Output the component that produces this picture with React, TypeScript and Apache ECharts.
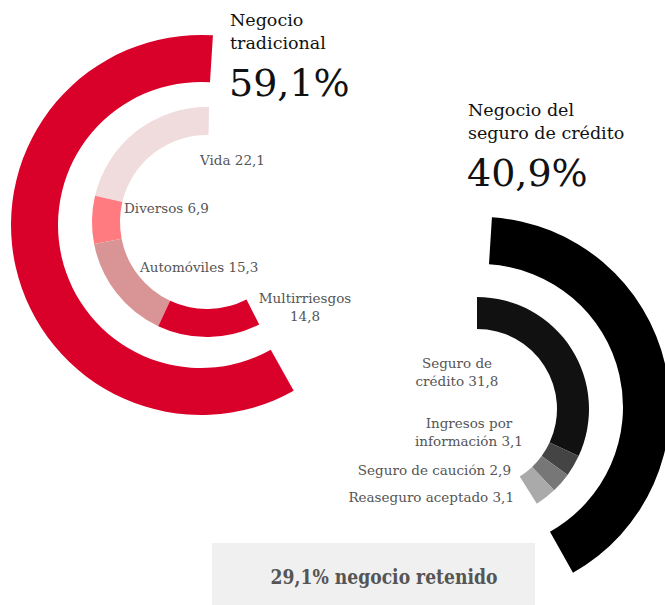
import React, { useEffect, useRef } from "react";
import * as echarts from "echarts";

// ---- data ----
const groupNames = ["Negocio\ntradicional", "Negocio del\nseguro de crédito"];
const groupTotals = [59.1, 40.9];

const tradNames = ["Vida", "Diversos", "Automóviles", "Multirriesgos\n"];
const tradValues = [22.1, 6.9, 15.3, 14.8];
const tradColors = ["#f0dcdc", "#ff7b80", "#d99596", "#d90029"];

const credNames = ["Seguro de\ncrédito", "Ingresos por\ninformación", "Seguro de caución", "Reaseguro aceptado"];
const credValues = [31.8, 3.1, 2.9, 3.1];
const credColors = ["#111111", "#444444", "#777777", "#aaaaaa"];

const retainedShare = 29.1;
const retainedLabel = "negocio retenido";

const fmt = (v: number) => String(v).replace(".", ",");

const SERIF = "'DejaVu Serif', serif";

export default function App() {
  const ref = useRef<HTMLDivElement>(null);

  useEffect(() => {
    if (!ref.current) return;
    const chart = echarts.init(ref.current, null, { renderer: "svg" });

    const basePie = {
      type: "pie",
      silent: true,
      label: { show: false },
      labelLine: { show: false },
      emphasis: { disabled: true },
      itemStyle: { borderWidth: 0 },
      avoidLabelOverlap: false,
    };

    const labelStyle = (text: string, x: number, y: number, align: string) => ({
      type: "text",
      x,
      y,
      style: {
        text,
        font: `13.5px ${SERIF}`,
        fill: "#555555",
        align,
        verticalAlign: "middle",
        lineHeight: 18,
      },
    });

    const tradLabels = tradNames.map((n, i) =>
      n.endsWith("\n") ? n + fmt(tradValues[i]) : `${n} ${fmt(tradValues[i])}`
    );
    const credLabels = credNames.map((n, i) => `${n} ${fmt(credValues[i])}`);

    const titleBlock = (name: string, total: number, x: number, y: number) => [
      {
        type: "text",
        x,
        y,
        style: {
          text: name,
          font: `17.5px ${SERIF}`,
          fill: "#111111",
          align: "left",
          verticalAlign: "top",
          lineHeight: 23,
        },
      },
      {
        type: "text",
        x: x - 1,
        y: y + 56,
        style: {
          text: `${fmt(total)}%`,
          font: `38px ${SERIF}`,
          fill: "#111111",
          align: "left",
          verticalAlign: "top",
        },
      },
    ];

    chart.setOption({
      animation: false,
      backgroundColor: "#ffffff",
      series: [
        {
          ...basePie,
          name: "outerTrad",
          center: [201, 225],
          radius: [143, 190],
          startAngle: 86.4,
          endAngle: -60.8,
          clockwise: false,
          data: [{ name: groupNames[0], value: groupTotals[0], itemStyle: { color: "#d90029" } }],
        },
        {
          ...basePie,
          name: "innerTrad",
          center: [207, 222],
          radius: [87, 115],
          startAngle: 89,
          endAngle: -63,
          clockwise: false,
          data: tradNames.map((n, i) => ({ name: n, value: tradValues[i], itemStyle: { color: tradColors[i] } })),
        },
        {
          ...basePie,
          name: "outerCred",
          center: [480, 407],
          radius: [143, 190],
          startAngle: 86.4,
          endAngle: -60.7,
          clockwise: true,
          data: [{ name: groupNames[1], value: groupTotals[1], itemStyle: { color: "#000000" } }],
        },
        {
          ...basePie,
          name: "innerCred",
          center: [477, 409],
          radius: [80, 112],
          startAngle: 90,
          endAngle: -57.7,
          clockwise: true,
          data: credNames.map((n, i) => ({ name: n, value: credValues[i], itemStyle: { color: credColors[i] } })),
        },
      ],
      graphic: [
        ...titleBlock(groupNames[0], groupTotals[0], 230, 8),
        ...titleBlock(groupNames[1], groupTotals[1], 468, 98),
        labelStyle(tradLabels[0], 200, 160, "left"),
        labelStyle(tradLabels[1], 124, 208, "left"),
        labelStyle(tradLabels[2], 140, 267, "left"),
        labelStyle(tradLabels[3], 305, 307, "center"),
        labelStyle(credLabels[0], 457, 372, "center"),
        labelStyle(credLabels[1], 469, 432, "center"),
        labelStyle(credLabels[2], 511, 470, "right"),
        labelStyle(credLabels[3], 514, 497, "right"),
        {
          type: "rect",
          shape: { x: 212, y: 543, width: 323, height: 62 },
          style: { fill: "#f0f0f0" },
        },
        {
          type: "text",
          x: 384,
          y: 576,
          scaleX: 0.86,
          originX: 0,
          style: {
            text: `${fmt(retainedShare)}% ${retainedLabel}`,
            font: `bold 20px ${SERIF}`,
            fill: "#555555",
            align: "center",
            verticalAlign: "middle",
          },
        },
      ],
    });

    return () => chart.dispose();
  }, []);

  return (
    <div
      ref={ref}
      style={{ position: "absolute", left: 0, top: 0, width: 665, height: 605 }}
    />
  );
}
